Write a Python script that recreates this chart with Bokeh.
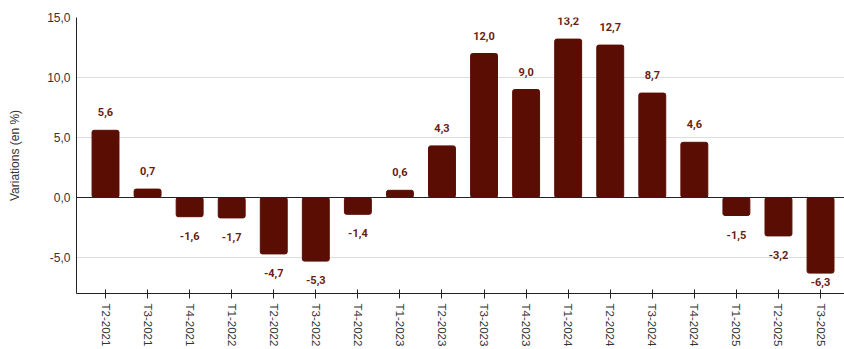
from bokeh.plotting import figure
from bokeh.models import ColumnDataSource, Range1d, FixedTicker, CustomJSTickFormatter, Span
from bokeh.embed import file_html
from bokeh.resources import INLINE
from bokeh.core.properties import value

quarters = ["T2-2021", "T3-2021", "T4-2021", "T1-2022", "T2-2022", "T3-2022", "T4-2022",
            "T1-2023", "T2-2023", "T3-2023", "T4-2023", "T1-2024", "T2-2024", "T3-2024",
            "T4-2024", "T1-2025", "T2-2025", "T3-2025"]
variations = [5.6, 0.7, -1.6, -1.7, -4.7, -5.3, -1.4, 0.6, 4.3, 12.0, 9.0, 13.2, 12.7, 8.7,
              4.6, -1.5, -3.2, -6.3]
y_ticks = [-5, 0, 5, 10, 15]

Y_MIN, Y_MAX = -8, 15
PLOT_H = 277  # frame height in px
PX_PER_UNIT = PLOT_H / (Y_MAX - Y_MIN)

idx = list(range(len(quarters)))
labels = [("%.1f" % v).replace(".", ",") for v in variations]
# label offsets (screen px, positive = downward); negative labels clamped inside the frame
offsets = []
for v in variations:
    if v >= 0:
        offsets.append(-18)
    else:
        offsets.append(min(19, (v - Y_MIN) * PX_PER_UNIT - 12))

src = ColumnDataSource(dict(x=idx, v=variations, lab=labels, off=offsets))

p = figure(width=844, height=349, output_backend="svg", toolbar_location=None,
           x_range=Range1d(-0.69, len(quarters) - 1 + 0.57),
           y_range=Range1d(Y_MIN, Y_MAX))
p.min_border_left = 76
p.min_border_right = 0
p.min_border_top = 17
p.min_border_bottom = 55
p.outline_line_color = None
p.background_fill_color = "white"
p.border_fill_color = "white"

p.vbar(x="x", top="v", bottom=0, width=0.64, source=src, fill_color="#5a0d02",
       line_color="#5a0d02", border_radius=2)

p.text(x="x", y="v", text="lab", source=src, text_align="center", text_baseline="middle",
       y_offset="off", text_font=value("Roboto"), text_font_style="bold", text_font_size="11px",
       text_color="#6b1d14")

p.add_layout(Span(location=0, dimension="width", line_color="#222222", line_width=1))

# y axis
p.yaxis.ticker = FixedTicker(ticks=y_ticks)
p.yaxis.formatter = CustomJSTickFormatter(code="return tick.toFixed(1).replace('.', ',');")
p.yaxis.axis_label = "Variations (en %)"
p.yaxis.axis_label_text_font = "Liberation Sans"
p.yaxis.axis_label_text_font_style = "normal"
p.yaxis.axis_label_text_font_size = "12px"
p.yaxis.axis_label_text_color = "#333333"
p.yaxis.axis_label_standoff = 22
p.yaxis.major_label_text_font = "Liberation Sans"
p.yaxis.major_label_text_font_size = "12px"
p.yaxis.major_label_text_color = "#333333"
p.yaxis.major_tick_out = 0
p.yaxis.major_tick_in = 0
p.yaxis.minor_tick_out = 0
p.yaxis.minor_tick_in = 0
p.yaxis.axis_line_color = "#222222"
p.yaxis.major_label_standoff = 6

# x axis
p.xaxis.ticker = FixedTicker(ticks=idx)
p.xaxis.major_label_overrides = {i: q for i, q in zip(idx, quarters)}
p.xaxis.major_label_orientation = "vertical"
p.xaxis.major_label_text_font = "Liberation Sans"
p.xaxis.major_label_text_font_size = "11.5px"
p.xaxis.major_label_text_color = "#333333"
p.xaxis.major_tick_in = 4
p.xaxis.major_tick_out = 5
p.xaxis.minor_tick_in = 0
p.xaxis.minor_tick_out = 0
p.xaxis.major_tick_line_color = "#222222"
p.xaxis.axis_line_color = "#222222"
p.xaxis.major_label_standoff = 5

p.xgrid.grid_line_color = None
p.ygrid.grid_line_color = "#dddddd"
p.ygrid.ticker = FixedTicker(ticks=[-5, 5, 10, 15])

open("out.html", "w").write(file_html(p, INLINE))
